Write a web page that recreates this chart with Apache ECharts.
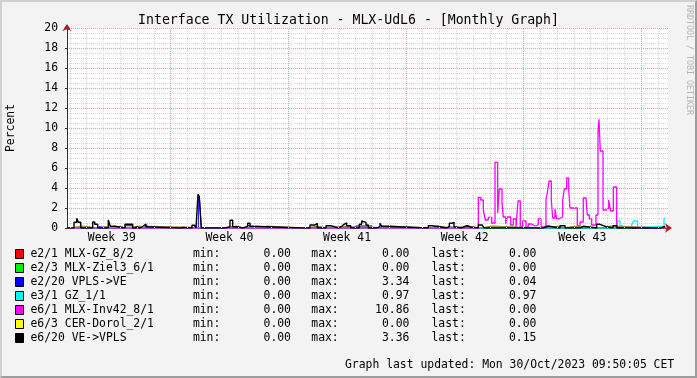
<!DOCTYPE html>
<html>
<head>
<meta charset="utf-8">
<script src="https://cdn.jsdelivr.net/npm/echarts@6/dist/echarts.min.js"></script>
<style>
  html, body { margin: 0; padding: 0; background: #f3f3f3; }
  #wrap { position: relative; width: 697px; height: 378px; }
  #container { width: 697px; height: 378px; }
  #frame { position: absolute; left: 0; top: 0; width: 697px; height: 378px; box-sizing: border-box;
           border: 2px solid; border-color: #d0d0d0 #9c9c9c #9c9c9c #d0d0d0; pointer-events: none; }
</style>
</head>
<body>
<div id="wrap"><div id="container"></div><div id="frame"></div></div>
<script>
// time unit: hours since Sun 24/Sep/2023 00:00
const seriesNames = ['e2/1 MLX-GZ_8/2', 'e2/3 MLX-Ziel3_6/1', 'e2/20 VPLS->VE', 'e3/1 GZ_1/1',
  'e6/1 MLX-Inv42_8/1', 'e6/3 CER-Dorol_2/1', 'e6/20 VE->VPLS']
const legendColors = ['#ff0000', '#00ee00', '#0000ff', '#00ffff', '#ff00ff', '#ffff00', '#000000']
const minValues = [0, 0, 0, 0, 0, 0, 0]
const maxValues = [0, 0, 3.34, 0.97, 10.86, 0, 3.36]
const lastValues = [0, 0, 0.04, 0.97, 0, 0, 0.15]

const weekLabels = ['Week 39', 'Week 40', 'Week 41', 'Week 42', 'Week 43']
const weekCenters = [84, 252, 420, 588, 756]
const weekStarts = [168, 336, 504, 672, 840]
const dayStarts = [24, 48, 72, 96, 120, 144, 192, 216, 240, 264, 288, 312, 360, 384, 408, 432,
  456, 480, 528, 552, 576, 600, 624, 648, 696, 720, 744, 768, 792, 816, 864]

const redData = [[20, 0], [874.6, 0]]
const greenData = [[20, 0], [874.6, 0]]
const blueData = [[20, 0], [36.1, 0.13], [38.6, 0], [62.4, 0.13], [66.1, 0], [81.4, 0.13], [86.1, 0],
  [103.3, 0.23], [113.8, 0], [131.4, 0.23], [134.7, 0], [199.6, 0.13], [202.8, 0], [207.6, 3.34],
  [209.0, 3.13], [211.8, 0], [248.1, 0.13], [257.6, 0], [277.5, 0.23], [281.4, 0], [369.5, 0.13],
  [375.7, 0], [396.7, 0.1], [400.4, 0], [417.1, 0.1], [421.8, 0], [521.8, 0.1], [524.2, 0],
  [563.8, 0.1], [567.1, 0], [584.7, 0.1], [587.5, 0], [867.1, 0.04], [874.6, 0.04]]
const cyanData = [[20, 0], [806.1, 0.7], [809.9, 0.23], [813.8, 0], [826.6, 0.3], [828.9, 0.7],
  [835.2, 0], [838.5, 0.1], [845.6, 0.13], [862.8, 0.1], [872.8, 0.97], [874.6, 0.97]]
const magentaData = [[20, 0], [607.5, 3.07], [611.0, 2.8], [614.7, 1.8], [617.5, 0.8], [621.8, 1.07],
  [626.7, 0.5], [631.4, 6.57], [635.2, 1.5], [637.5, 3.9], [641.4, 2.5], [643.2, 1.1], [646.7, 0.4],
  [648.9, 1.1], [653.8, 0.3], [657.5, 0.9], [661.4, 0.1], [664.2, 2.7], [667.5, 0.15], [670.9, 0.7],
  [675.7, 0.1], [678.9, 0.4], [683.8, 0.2], [688.5, 0.3], [693.2, 0.9], [697.1, 0.1], [704.2, 2.8],
  [706.7, 3.8], [708.5, 4.7], [711.8, 2.8], [713.8, 1.0], [717.1, 1.9], [719.5, 0.9], [722.4, 1.1],
  [728.1, 2.8], [730.4, 3.9], [733.8, 5.0], [736.7, 3.8], [738.5, 2.0], [748.9, 0.2], [752.8, 0.6],
  [757.5, 3.0], [761.4, 3.2], [763.2, 1.3], [766.1, 0.9], [769.5, 0.3], [775.6, 1.3], [778.5, 9.6],
  [779.9, 10.86], [781.8, 7.7], [785.7, 1.8], [790.9, 2.0], [793.8, 2.8], [796.6, 1.7], [800.4, 4.1],
  [805.2, 0.1], [807.5, 0], [874.6, 0]]
const yellowData = [[20, 0], [24.3, 0.2], [41.4, 0], [67.1, 0.15], [75.7, 0], [84.3, 0.18], [95.7, 0],
  [102.8, 0.2], [124.3, 0], [128.6, 0.18], [134.3, 0], [247.1, 0.2], [261.4, 0], [271.4, 0.15], [284.3, 0],
  [295.7, 0.2], [305.7, 0], [360.0, 0.2], [378.5, 0], [388.6, 0.2], [420.0, 0], [431.4, 0.25], [455.7, 0],
  [464.3, 0.2], [481.4, 0], [538.6, 0.2], [550.0, 0], [570.0, 0.2], [592.8, 0], [610.0, 0.2], [627.1, 0],
  [702.8, 0.2], [724.2, 0], [727.1, 0.18], [745.7, 0], [781.4, 0.2], [795.7, 0], [874.6, 0]]
const blackData = [[20, 0], [30.0, 0.57], [33.9, 0.97], [36.1, 0.57], [39.6, 0], [56.7, 0.6], [59.6, 0.37],
  [63.8, 0], [79.0, 0.8], [81.8, 0.17], [88.6, 0], [102.8, 0.37], [113.8, 0], [117.1, 0.1], [120.0, 0],
  [124.3, 0.2], [129.0, 0.4], [132.8, 0.13], [135.0, 0], [182.4, 0.05], [185.3, 0], [198.5, 0.27],
  [202.4, 0.17], [204.3, 0], [207.1, 3.36], [209.0, 3.13], [211.8, 0], [226.7, 0.05], [229.0, 0],
  [233.8, 0.05], [236.1, 0], [245.7, 0.13], [252.8, 0.77], [256.7, 0.13], [260.0, 0], [261.4, 0.1],
  [264.7, 0], [271.0, 0.17], [278.1, 0.47], [281.4, 0.17], [284.3, 0], [356.7, 0.05], [358.5, 0],
  [367.1, 0.3], [374.3, 0.47], [377.5, 0], [390.0, 0.23], [395.7, 0.17], [400.4, 0], [407.5, 0.17],
  [412.4, 0.37], [415.7, 0.5], [419.5, 0.23], [425.3, 0], [437.5, 0.37], [441.0, 0.7], [443.3, 0.57],
  [447.1, 0.3], [450.4, 0], [463.2, 0.17], [467.1, 0.47], [469.5, 0.17], [475.7, 0], [536.1, 0.23],
  [540.0, 0.37], [541.8, 0.17], [548.1, 0], [562.4, 0.17], [566.1, 0.47], [569.5, 0.57], [572.8, 0.1],
  [575.7, 0], [583.8, 0.17], [588.5, 0.23], [592.4, 0.1], [595.7, 0], [607.5, 0.3], [613.2, 0.17],
  [615.7, 0], [699.9, 0.2], [707.1, 0], [724.2, 0.23], [731.4, 0], [752.8, 0.17], [757.5, 0],
  [776.6, 0.37], [781.4, 0.23], [786.1, 0.13], [789.9, 0], [799.9, 0.23], [805.6, 0], [867.1, 0.1],
  [871.8, 0.15], [874.6, 0.15]]

const MONO = 'DejaVu Sans Mono'
const FS = 11.4
const X_MIN = 20, X_MAX = 878.5
const MAJOR = '#f59a9a'
const MINOR = '#d6d6d6'

function stepLine(name, color, data, extra) {
  return Object.assign({
    name: name,
    type: 'line',
    step: 'end',
    data: data,
    symbol: 'none',
    showSymbol: false,
    xAxisIndex: 0,
    yAxisIndex: 0,
    z: 3,
    lineStyle: { width: 1, color: color },
    itemStyle: { color: color }
  }, extra || {})
}

// vertical grid lines (days / weeks) as mark lines on an empty helper series
function gridLines(name, values, color, z) {
  return {
    name: name, type: 'line', data: [[X_MIN, null]], symbol: 'none', z: z, silent: true,
    lineStyle: { opacity: 0 },
    markLine: {
      silent: true, animation: false, symbol: ['none', 'none'], label: { show: false },
      emphasis: { disabled: true },
      lineStyle: { color: color, width: 1, type: [1, 1], opacity: 1 },
      data: values.map(v => ({ xAxis: v }))
    }
  }
}

var dom = document.getElementById('container')
var myChart = echarts.init(dom, null, { renderer: 'canvas' })

const f2 = v => v.toFixed(2).padStart(8, ' ')
const tok = (w) => ({ width: w, fontFamily: MONO, fontSize: FS, lineHeight: 14, color: '#000' })

var option = {
  animation: false,
  backgroundColor: '#f3f3f3',
  title: [
    {
      text: 'Interface TX Utilization - MLX-UdL6 - [Monthly Graph]',
      left: 'center', top: 13, padding: 0,
      textStyle: { fontFamily: MONO, fontSize: 13.2, fontWeight: 'normal', color: '#000', lineHeight: 16 }
    },
    {
      text: 'Graph last updated: Mon 30/Oct/2023 09:50:05 CET',
      left: 345, top: 358, padding: 0,
      textStyle: { fontFamily: MONO, fontSize: FS, fontWeight: 'normal', color: '#000', lineHeight: 14 }
    }
  ],
  graphic: [{
    type: 'text', x: 689, y: 5, rotation: -Math.PI / 2,
    style: { text: 'RRDTOOL / TOBI OETIKER', font: '8.3px "DejaVu Sans Mono"', fill: '#b4b4b4',
      align: 'left', verticalAlign: 'middle' }
  }],
  grid: { left: 67, top: 28, width: 601, height: 200, backgroundColor: '#fff', show: true, borderWidth: 0,
    outerBoundsMode: 'none', containLabel: false },
  legend: {
    orient: 'vertical', left: 15, top: 247, padding: 0, itemGap: 0, itemWidth: 8, itemHeight: 9,
    icon: 'rect', selectedMode: false,
    data: seriesNames.map((n, i) => ({
      name: n, itemStyle: { color: legendColors[i], borderColor: '#000', borderWidth: 1 }
    })),
    formatter: function (name) {
      const i = seriesNames.indexOf(name)
      return '{n|' + name + '}{k|min:}{v|' + f2(minValues[i]) + '}{k|max:}{v2|' + f2(maxValues[i]) +
        '}{k3|last:}{v3|' + f2(lastValues[i]) + '}'
    },
    textStyle: {
      fontFamily: MONO, fontSize: FS, color: '#000', lineHeight: 14, padding: [0, 0, 0, 2],
      rich: {
        n: tok(162.4),
        k: tok(43.2),
        v: tok(75.2),
        v2: tok(77.0),
        k3: tok(50),
        v3: tok(60)
      }
    }
  },
  xAxis: [
    {
      type: 'value', min: X_MIN, max: X_MAX, position: 'bottom',
      axisLine: { show: true, lineStyle: { color: '#303030', width: 1 } },
      axisTick: { show: false, customValues: weekCenters },
      axisLabel: {
        show: true, customValues: weekCenters, margin: 5, fontFamily: MONO, fontSize: FS, color: '#000',
        formatter: v => weekLabels[weekCenters.indexOf(v)]
      },
      splitLine: { show: false }
    },
    {
      type: 'value', min: X_MAX - 0.5, max: X_MAX, position: 'bottom',
      axisLine: { show: true, symbol: ['none', 'arrow'], symbolSize: [7, 7], symbolOffset: [0, 4],
        lineStyle: { color: '#a02020', width: 1 } },
      axisTick: { show: false }, axisLabel: { show: false }, splitLine: { show: false }
    }
  ],
  yAxis: [
    {
      type: 'value', min: 0, max: 20, interval: 2, position: 'left',
      name: 'Percent', nameLocation: 'middle', nameGap: 50,
      nameTextStyle: { fontFamily: MONO, fontSize: FS, color: '#000' },
      axisLine: { show: true, lineStyle: { color: '#303030', width: 1 } },
      axisTick: { show: true, length: 2, lineStyle: { color: '#303030' } },
      minorTick: { show: false, splitNumber: 4 },
      axisLabel: { margin: 9, fontFamily: MONO, fontSize: FS, color: '#000' },
      splitLine: { show: true, lineStyle: { color: MAJOR, width: 1, type: [1, 1] } },
      minorSplitLine: { show: true, lineStyle: { color: MINOR, width: 1, type: [1, 1] } }
    },
    {
      type: 'value', min: 0, max: 20, position: 'left',
      axisLine: { show: true, symbol: ['none', 'arrow'], symbolSize: [7, 7], symbolOffset: [0, 4],
        lineStyle: { color: '#a02020', width: 0.01 } },
      axisTick: { show: false }, axisLabel: { show: false }, splitLine: { show: false }
    }
  ],
  series: [
    gridLines('days', dayStarts, MINOR, 1),
    gridLines('weeks', weekStarts, MAJOR, 2),
    stepLine(seriesNames[0], '#ff0000', redData),
    stepLine(seriesNames[1], '#00ee00', greenData),
    stepLine(seriesNames[2], '#0000ff', blueData),
    stepLine(seriesNames[3], '#00ffff', cyanData, { lineStyle: { width: 1.3, color: '#00ffff' } }),
    stepLine(seriesNames[4], '#ff00ff', magentaData, { lineStyle: { width: 1.3, color: '#ff00ff' } }),
    stepLine(seriesNames[5], '#8f8f30', yellowData, { areaStyle: { color: '#9a9a3c', opacity: 1 } }),
    stepLine(seriesNames[6], '#000000', blackData, { lineStyle: { width: 1.4, color: '#000' } })
  ]
}

if (option && typeof option === 'object') {
  myChart.setOption(option)
}
</script>
</body>
</html>
